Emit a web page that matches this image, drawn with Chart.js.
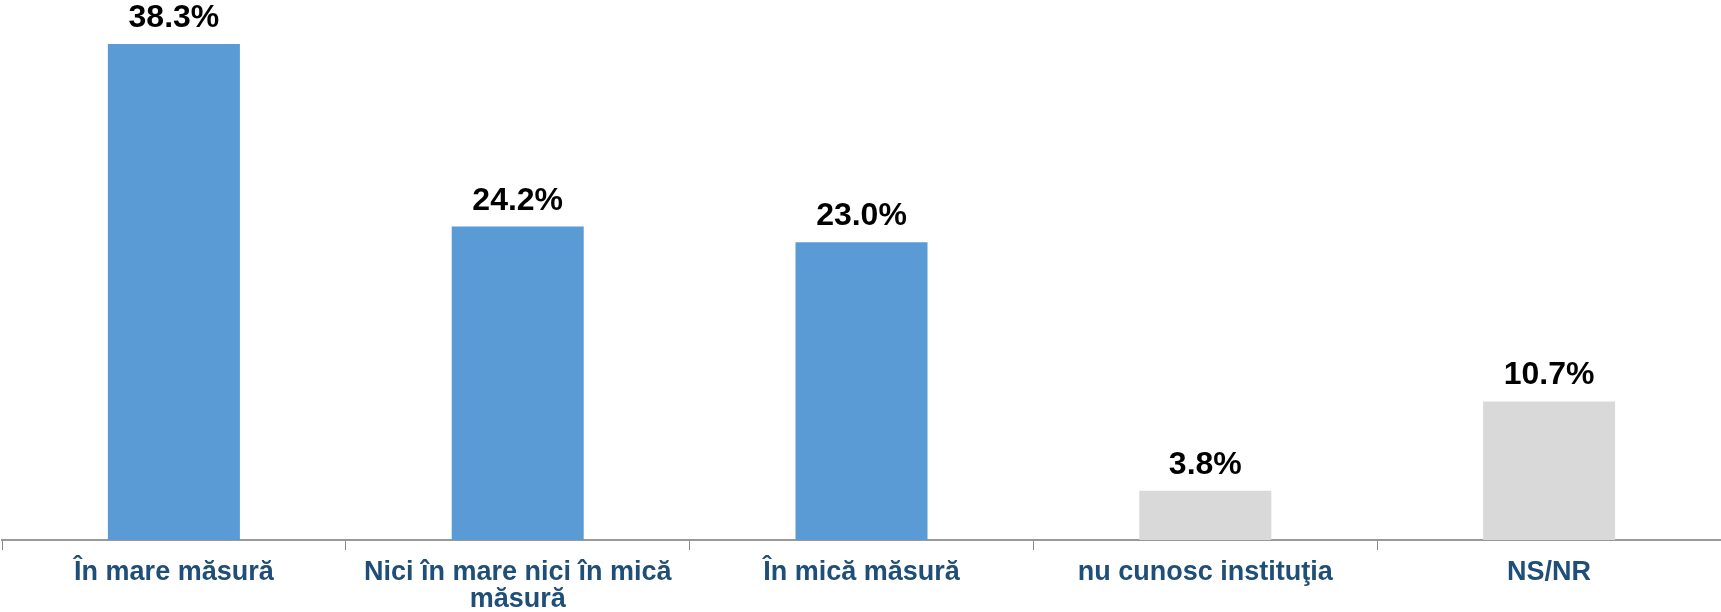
<!DOCTYPE html>
<html>
<head>
<meta charset="utf-8">
<script src="https://cdn.jsdelivr.net/npm/chart.js@4"></script>
<style>
  html, body { margin: 0; padding: 0; background: #fff; }
  #wrap { width: 1721px; height: 612px; }
</style>
</head>
<body>
<div id="wrap"><canvas id="myChart" width="1721" height="612"></canvas></div>
<script>
// categories (split in lines like the original)
const categories = [
  'În mare măsură',
  ['Nici în mare nici în mică', 'măsură'],
  'În mică măsură',
  'nu cunosc instituţia',
  'NS/NR'
];
const values = [38.3, 24.2, 23.0, 3.8, 10.7];
const barColors = ['#5B9BD5', '#5B9BD5', '#5B9BD5', '#D9D9D9', '#D9D9D9'];

// labels on top of bars
const valueLabels = {
  id: 'valueLabels',
  afterDatasetsDraw(chart) {
    const ctx = chart.ctx;
    const meta = chart.getDatasetMeta(0);
    ctx.save();
    ctx.font = 'bold 32px "Liberation Sans", Arial, sans-serif';
    ctx.fillStyle = '#000';
    ctx.textAlign = 'center';
    ctx.textBaseline = 'alphabetic';
    meta.data.forEach(function (bar, i) {
      ctx.fillText(values[i].toFixed(1) + '%', bar.x, bar.y - 17);
    });
    ctx.restore();
  }
};

const ctx = document.getElementById('myChart').getContext('2d');
const myChart = new Chart(ctx, {
  type: 'bar',
  data: {
    labels: categories,
    datasets: [{
      data: values,
      backgroundColor: barColors,
      borderWidth: 0,
      categoryPercentage: 1,
      barPercentage: 0.384
    }]
  },
  options: {
    responsive: false,
    animation: false,
    layout: { padding: { top: 22, left: 2, right: 0, bottom: 0 } },
    plugins: {
      legend: { display: false },
      tooltip: { enabled: false }
    },
    scales: {
      x: {
        grid: {
          drawOnChartArea: false,
          tickLength: 10,
          color: '#898989',
          offset: true
        },
        border: { color: '#999999', width: 2 },
        ticks: {
          color: '#1F4E79',
          font: { family: '"Liberation Sans", Arial, sans-serif', size: 27, weight: 'bold', lineHeight: 1.0 },
          padding: 9,
          maxRotation: 0,
          autoSkip: false
        },
        afterFit: function (scale) { scale.height = 72; }
      },
      y: {
        display: false,
        min: 0,
        max: 40
      }
    }
  },
  plugins: [valueLabels]
});
</script>
</body>
</html>
